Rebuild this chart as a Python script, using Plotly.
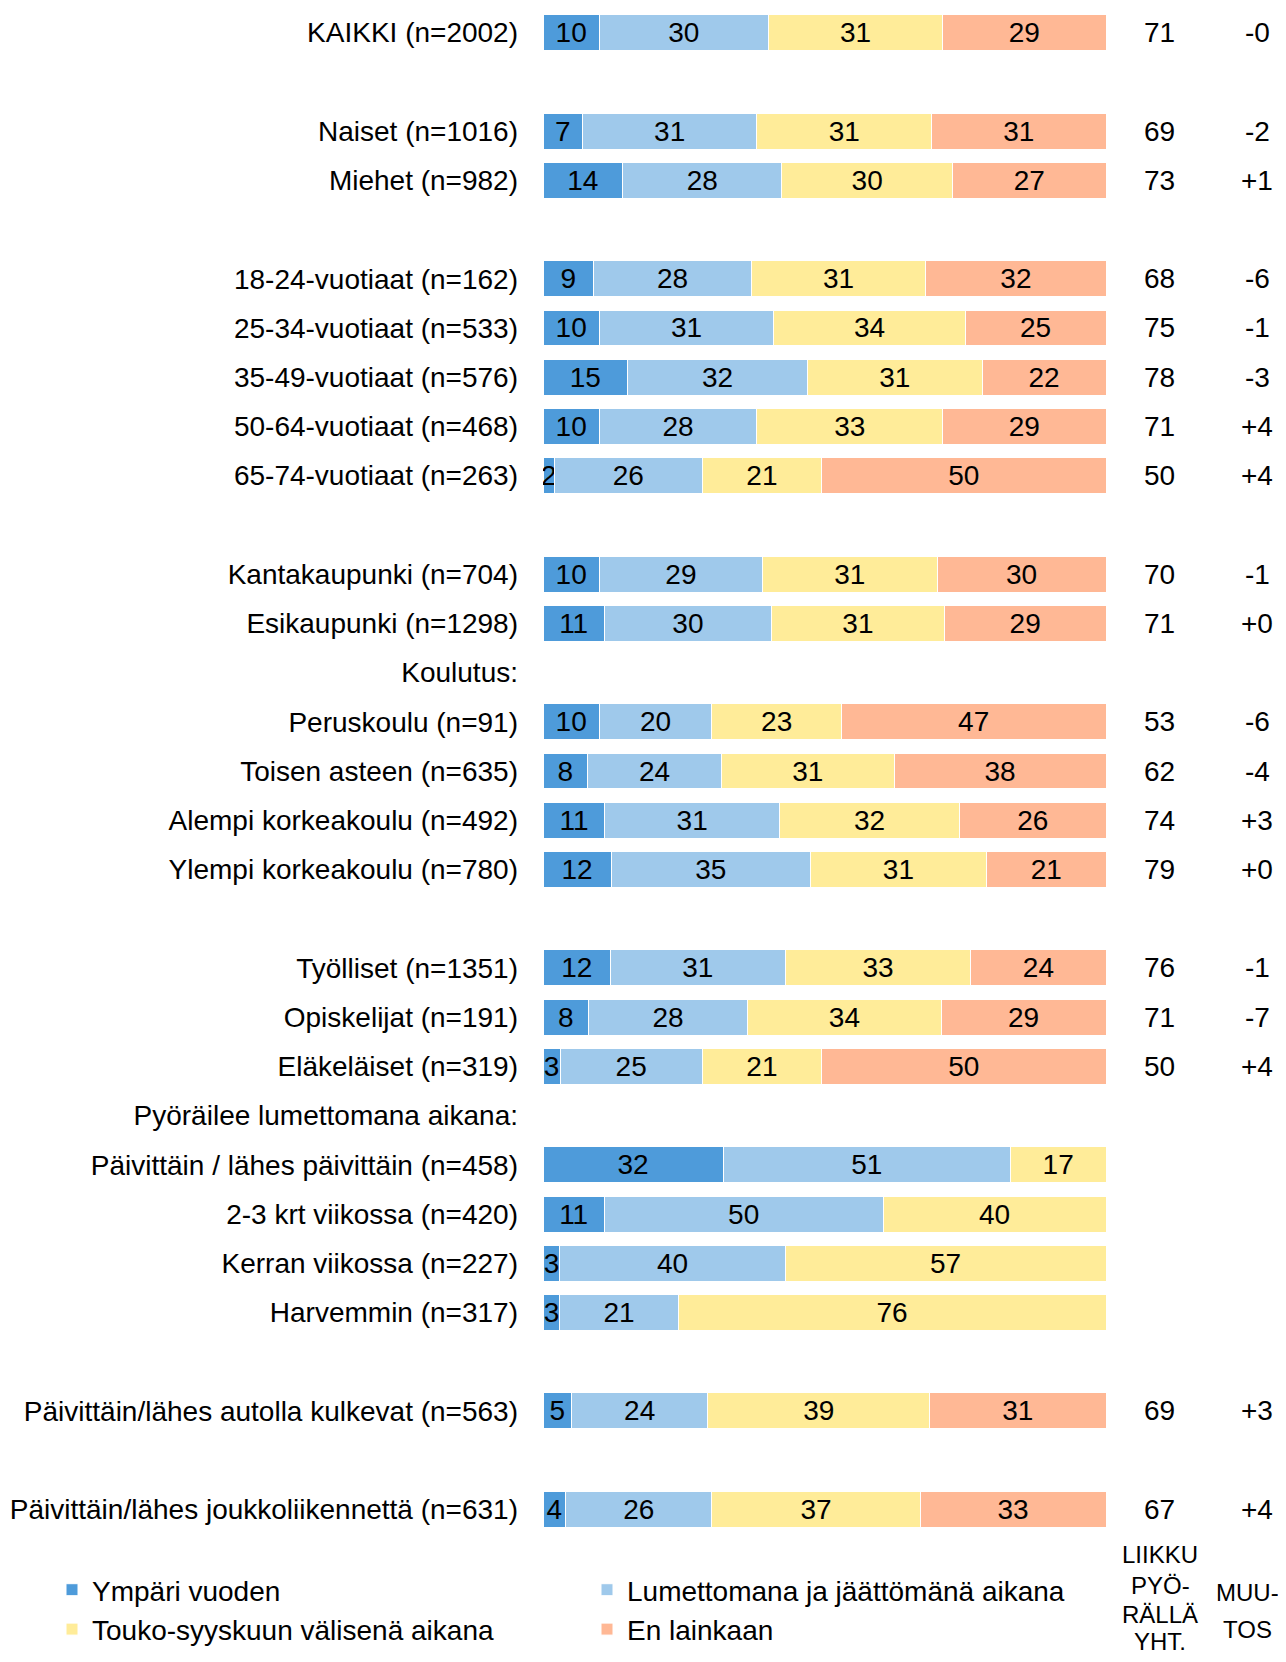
import plotly.graph_objects as go

# ---- data ----
labels = [
    "KAIKKI (n=2002)", "", "Naiset (n=1016)", "Miehet (n=982)", "",
    "18-24-vuotiaat (n=162)", "25-34-vuotiaat (n=533)", "35-49-vuotiaat (n=576)",
    "50-64-vuotiaat (n=468)", "65-74-vuotiaat (n=263)", "",
    "Kantakaupunki (n=704)", "Esikaupunki (n=1298)", "Koulutus:",
    "Peruskoulu (n=91)", "Toisen asteen (n=635)", "Alempi korkeakoulu (n=492)",
    "Ylempi korkeakoulu (n=780)", "",
    "Työlliset (n=1351)", "Opiskelijat (n=191)", "Eläkeläiset (n=319)",
    "Pyöräilee lumettomana aikana:",
    "Päivittäin / lähes päivittäin (n=458)", "2-3 krt viikossa (n=420)",
    "Kerran viikossa (n=227)", "Harvemmin (n=317)", "",
    "Päivittäin/lähes autolla kulkevat (n=563)", "",
    "Päivittäin/lähes joukkoliikennettä (n=631)",
]
N = None
ympari = [10, N, 7, 14, N, 9, 10, 15, 10, 2, N, 10, 11, N, 10, 8, 11, 12, N, 12, 8, 3, N, 32, 11, 3, 3, N, 5, N, 4]
lumeton = [30, N, 31, 28, N, 28, 31, 32, 28, 26, N, 29, 30, N, 20, 24, 31, 35, N, 31, 28, 25, N, 51, 50, 40, 21, N, 24, N, 26]
touko = [31, N, 31, 30, N, 31, 34, 31, 33, 21, N, 31, 31, N, 23, 31, 32, 31, N, 33, 34, 21, N, 17, 40, 57, 76, N, 39, N, 37]
enlainkaan = [29, N, 31, 27, N, 32, 25, 22, 29, 50, N, 30, 29, N, 47, 38, 26, 21, N, 24, 29, 50, N, N, N, N, N, N, 31, N, 33]
yht = ["71", "", "69", "73", "", "68", "75", "78", "71", "50", "", "70", "71", "", "53", "62", "74", "79", "",
       "76", "71", "50", "", "", "", "", "", "", "69", "", "67"]
muutos = ["-0", "", "-2", "+1", "", "-6", "-1", "-3", "+4", "+4", "", "-1", "+0", "", "-6", "-4", "+3", "+0", "",
          "-1", "-7", "+4", "", "", "", "", "", "", "+3", "", "+4"]
header_yht = ["LIIKKU", "PYÖ-", "RÄLLÄ", "YHT."]
header_muutos = ["MUU-", "TOS"]

series_names = ["Ympäri vuoden", "Lumettomana ja jäättömänä aikana",
                "Touko-syyskuun välisenä aikana", "En lainkaan"]
series_values = [ympari, lumeton, touko, enlainkaan]
colors = ["#4E9BDA", "#9FC9EB", "#FFEC99", "#FFB895"]
legend_ids = ["legend", "legend2", "legend", "legend2"]

# ---- layout geometry (figure px) ----
W, H = 1270, 1646
ML, MR, MT, MB = 535, 172, 0, 120
PW = W - ML - MR
PH = H - MT - MB

def px_x(x):
    return (x - ML) / PW

def px_y(y):
    return 1 - (y - MT) / PH

FONT = "Liberation Sans, Arial, sans-serif"
FS = 28
HFS = 24

rows = list(range(len(labels)))
fig = go.Figure()
for name, vals, col, lg in zip(series_names, series_values, colors, legend_ids):
    fig.add_trace(go.Bar(
        y=rows, x=vals, name=name, orientation="h",
        marker=dict(color=col, line=dict(color="white", width=1)),
        text=[("" if v is None else str(v)) for v in vals],
        textposition="inside", insidetextanchor="middle", textangle=0,
        textfont=dict(color="black", size=FS, family=FONT),
        legend=lg, hoverinfo="skip",
    ))

tickvals = [i for i, l in enumerate(labels) if l]
ticktext = [labels[i] for i in tickvals]

annotations = []
for i in rows:
    if yht[i]:
        annotations.append(dict(x=px_x(1151), y=i, xref="paper", yref="y", text=yht[i],
                                showarrow=False, xanchor="center", yanchor="middle",
                                font=dict(size=FS, family=FONT, color="black")))
    if muutos[i]:
        annotations.append(dict(x=px_x(1249), y=i, xref="paper", yref="y", text=muutos[i],
                                showarrow=False, xanchor="center", yanchor="middle",
                                font=dict(size=FS, family=FONT, color="black")))

for txt, yy in zip(header_yht, [1546, 1577, 1606, 1633]):
    annotations.append(dict(x=px_x(1152), y=px_y(yy), xref="paper", yref="paper",
                            text=txt, showarrow=False, xanchor="center", yanchor="middle",
                            font=dict(size=HFS, family=FONT, color="black")))
for txt, yy in zip(header_muutos, [1584, 1621]):
    annotations.append(dict(x=px_x(1239), y=px_y(yy), xref="paper", yref="paper",
                            text=txt, showarrow=False, xanchor="center", yanchor="middle",
                            font=dict(size=HFS, family=FONT, color="black")))

fig.update_layout(
    width=W, height=H,
    margin=dict(l=ML, r=MR, t=MT, b=MB, pad=0, autoexpand=False),
    barmode="stack", barnorm="percent", bargap=0.27,
    plot_bgcolor="white", paper_bgcolor="white",
    font=dict(family=FONT, size=FS, color="black"),
    uniformtext=dict(minsize=FS, mode="show"),
    xaxis=dict(visible=False, range=[0, 100], fixedrange=True),
    yaxis=dict(range=[len(labels) - 0.5, -0.5], tickvals=tickvals, ticktext=ticktext,
               showgrid=False, zeroline=False, showline=False, ticks="",
               ticklabelstandoff=24, tickfont=dict(size=FS, family=FONT, color="black")),
    legend=dict(orientation="v", x=px_x(44), y=px_y(1557), xanchor="left", yanchor="top",
                font=dict(size=FS, family=FONT, color="black"), bgcolor="rgba(0,0,0,0)",
                tracegroupgap=0, itemwidth=30, traceorder="normal"),
    legend2=dict(orientation="v", x=px_x(579), y=px_y(1557), xanchor="left", yanchor="top",
                 font=dict(size=FS, family=FONT, color="black"), bgcolor="rgba(0,0,0,0)",
                 tracegroupgap=0, itemwidth=30, traceorder="normal"),
    annotations=annotations,
    showlegend=True,
)

fig.write_html("out.html")
